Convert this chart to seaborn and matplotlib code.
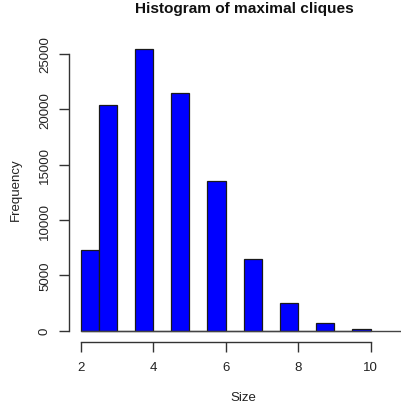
import numpy as np
import pandas as pd
import matplotlib
matplotlib.use("Agg")
import matplotlib.pyplot as plt
import seaborn as sns

# Data
sizes = [2, 3, 4, 5, 6, 7, 8, 9, 10]
counts = [7300, 20400, 25450, 21450, 13550, 6500, 2520, 720, 150]
x_ticks = [2, 4, 6, 8, 10]
y_ticks = [0, 5000, 10000, 15000, 20000, 25000]

sns.set_style("white")
plt.rcParams['font.family'] = ['Liberation Sans', 'DejaVu Sans']

# R-style right-closed bins of width 0.5 from 2 to 10
df = pd.DataFrame({"size": sizes, "count": counts})
df["bin_start"] = np.where(df["size"] == 2, 2.0, df["size"] - 0.5)

fig = plt.figure(figsize=(4.01, 4.10), dpi=100)
ax = fig.add_axes([69 / 401, 1 - 343 / 410, 1 - 69 / 401, (343 - 39) / 410])

sns.histplot(data=df, x="bin_start", weights="count", binwidth=0.5,
             binrange=(2, 10), ax=ax, stat="count",
             color="#0000ff", alpha=1, edgecolor="#1a1a1a", linewidth=0.9)

ax.set_xlim(1.68, 10.84)
ax.set_ylim(-1017, 26441)
ax.axhline(0, xmin=(2 - 1.68) / (10.84 - 1.68), xmax=1, color="#444444", lw=1)

for s in ["top", "right"]:
    ax.spines[s].set_visible(False)
ax.spines["left"].set_bounds(0, 25000)
ax.spines["bottom"].set_bounds(2, 10)
for s in ["left", "bottom"]:
    ax.spines[s].set_color("#333333")
    ax.spines[s].set_linewidth(1)

ax.set_xticks(x_ticks)
ax.set_xticklabels([str(v) for v in x_ticks])
ax.set_yticks(y_ticks)
ax.set_yticklabels([str(v) for v in y_ticks], rotation=90, va="center")
ax.tick_params(axis="both", direction="out", length=7, width=1, color="#333333",
               labelsize=9.5, labelcolor="#222222", pad=6, bottom=True, left=True)
ax.tick_params(axis="x", pad=7)

ax.set_xlabel("")
ax.set_ylabel("")
fig.text(243 / 401, 1 - 398 / 410, "Size", ha="center", va="center",
         fontsize=9.5, color="#222222")
fig.text(16 / 401, 1 - 190 / 410, "Frequency", ha="center", va="center",
         rotation=90, fontsize=9.5, color="#222222")
fig.text(244.5 / 401, 1 - 9 / 410, "Histogram of maximal cliques", ha="center",
         va="center", fontsize=11.1, fontweight="bold", color="#111111")

fig.savefig("out.png", dpi=100)
